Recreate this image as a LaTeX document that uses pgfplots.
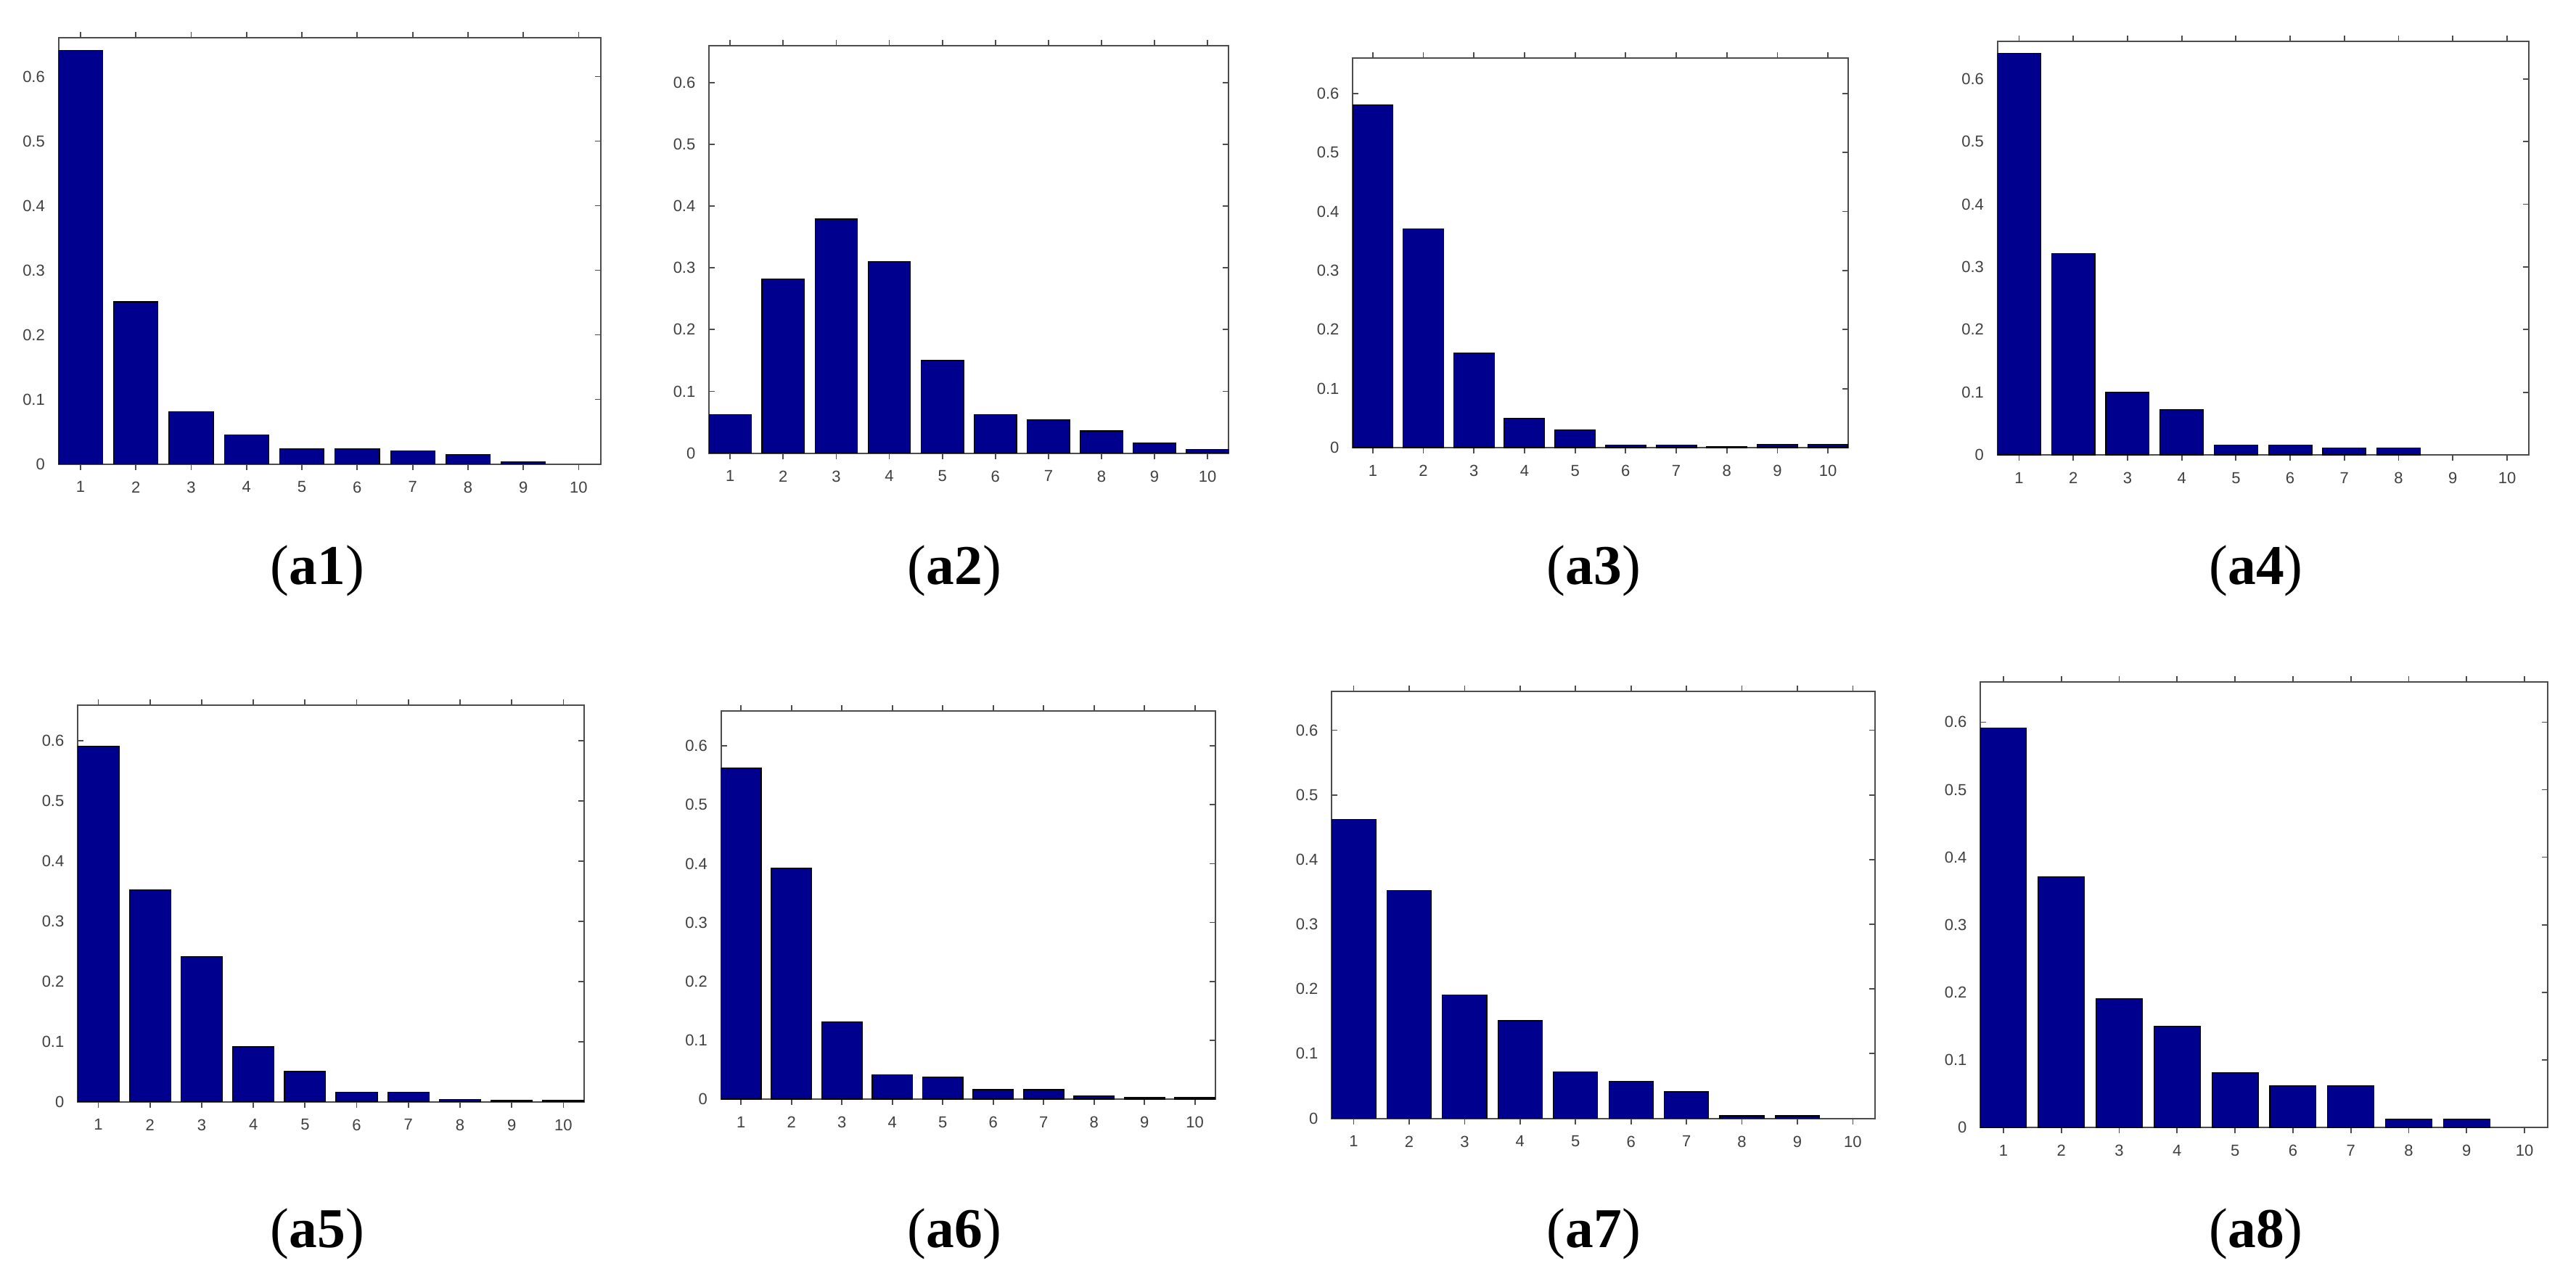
\documentclass[border=0pt]{standalone}
\usepackage{fontspec}
\usepackage{pgfplots}
\pgfplotsset{compat=1.18}
\newfontfamily\tickfont{Liberation Sans}
\newfontfamily\capfont{Liberation Serif}
\definecolor{barblue}{RGB}{0,0,143}

\pgfplotsset{
  panel/.style={
    scale only axis, anchor=south west,
    xmin=0.6, xmax=10.4, ymin=0, ymax=0.66,
    xtick={1,2,3,4,5,6,7,8,9,10},
    ytick={0,0.1,0.2,0.3,0.4,0.5,0.6},
    tick align=inside, tick pos=both,
    major tick length=1.6pt,
    axis line style={black!70, line width=0.4pt},
    tick style={black!70, line width=0.35pt},
    /pgf/number format/assume math mode=true,
    tick label style={font=\tickfont\fontsize{4.4}{5}\selectfont, text=black!75},
    xticklabel style={yshift=0.3pt},
    yticklabel style={/pgf/number format/fixed, xshift=-0.2pt},
    ybar, bar width=0.8,
  },
  bars/.style={fill=barblue, draw=black, line width=0.25pt},
}
\tikzset{panelcap/.style={font=\capfont\fontsize{15.5}{17}\selectfont, anchor=center}}

\begin{document}
\begin{tikzpicture}
\path[use as bounding box] (0,0) rectangle (710pt,354.6pt);

% row 1
\begin{axis}[panel, at={(16.1pt,226.7pt)}, width=149.5pt, height=117.5pt]
\addplot[bars] coordinates {(1,0.640) (2,0.251) (3,0.081) (4,0.045) (5,0.024) (6,0.024) (7,0.020) (8,0.015) (9,0.0035)};
\end{axis}
\begin{axis}[panel, at={(195.4pt,229.7pt)}, width=143.3pt, height=112.3pt]
\addplot[bars] coordinates {(1,0.062) (2,0.282) (3,0.379) (4,0.310) (5,0.150) (6,0.062) (7,0.054) (8,0.036) (9,0.016) (10,0.006)};
\end{axis}
\begin{axis}[panel, at={(372.8pt,231.2pt)}, width=136.6pt, height=107.4pt]
\addplot[bars] coordinates {(1,0.580) (2,0.371) (3,0.160) (4,0.050) (5,0.030) (6,0.0045) (7,0.0045) (8,0.002) (9,0.0055) (10,0.0055)};
\end{axis}
\begin{axis}[panel, at={(550.5pt,229.2pt)}, width=146.5pt, height=114.0pt]
\addplot[bars] coordinates {(1,0.641) (2,0.321) (3,0.100) (4,0.072) (5,0.016) (6,0.016) (7,0.011) (8,0.011)};
\end{axis}

% row 2
\begin{axis}[panel, at={(21.4pt,50.9pt)}, width=139.6pt, height=109.4pt]
\addplot[bars] coordinates {(1,0.591) (2,0.352) (3,0.241) (4,0.091) (5,0.050) (6,0.016) (7,0.016) (8,0.004) (9,0.0026) (10,0.0026)};
\end{axis}
\begin{axis}[panel, at={(198.7pt,51.6pt)}, width=136.2pt, height=107.1pt]
\addplot[bars] coordinates {(1,0.562) (2,0.392) (3,0.131) (4,0.041) (5,0.037) (6,0.016) (7,0.016) (8,0.005) (9,0.003) (10,0.003)};
\end{axis}
\begin{axis}[panel, at={(367.0pt,46.3pt)}, width=149.8pt, height=117.7pt]
\addplot[bars] coordinates {(1,0.462) (2,0.352) (3,0.191) (4,0.151) (5,0.072) (6,0.057) (7,0.041) (8,0.004) (9,0.004)};
\end{axis}
\begin{axis}[panel, at={(545.8pt,43.8pt)}, width=156.4pt, height=122.9pt]
\addplot[bars] coordinates {(1,0.591) (2,0.371) (3,0.191) (4,0.150) (5,0.081) (6,0.062) (7,0.062) (8,0.012) (9,0.012)};
\end{axis}

% captions
\node[panelcap] at (87.5pt,197.2pt) {(\textbf{a1})};
\node[panelcap] at (263.1pt,197.2pt) {(\textbf{a2})};
\node[panelcap] at (439.3pt,197.2pt) {(\textbf{a3})};
\node[panelcap] at (621.8pt,197.2pt) {(\textbf{a4})};
\node[panelcap] at (87.5pt,14.4pt) {(\textbf{a5})};
\node[panelcap] at (263.1pt,14.4pt) {(\textbf{a6})};
\node[panelcap] at (439.3pt,14.4pt) {(\textbf{a7})};
\node[panelcap] at (621.8pt,14.4pt) {(\textbf{a8})};
\end{tikzpicture}
\end{document}
